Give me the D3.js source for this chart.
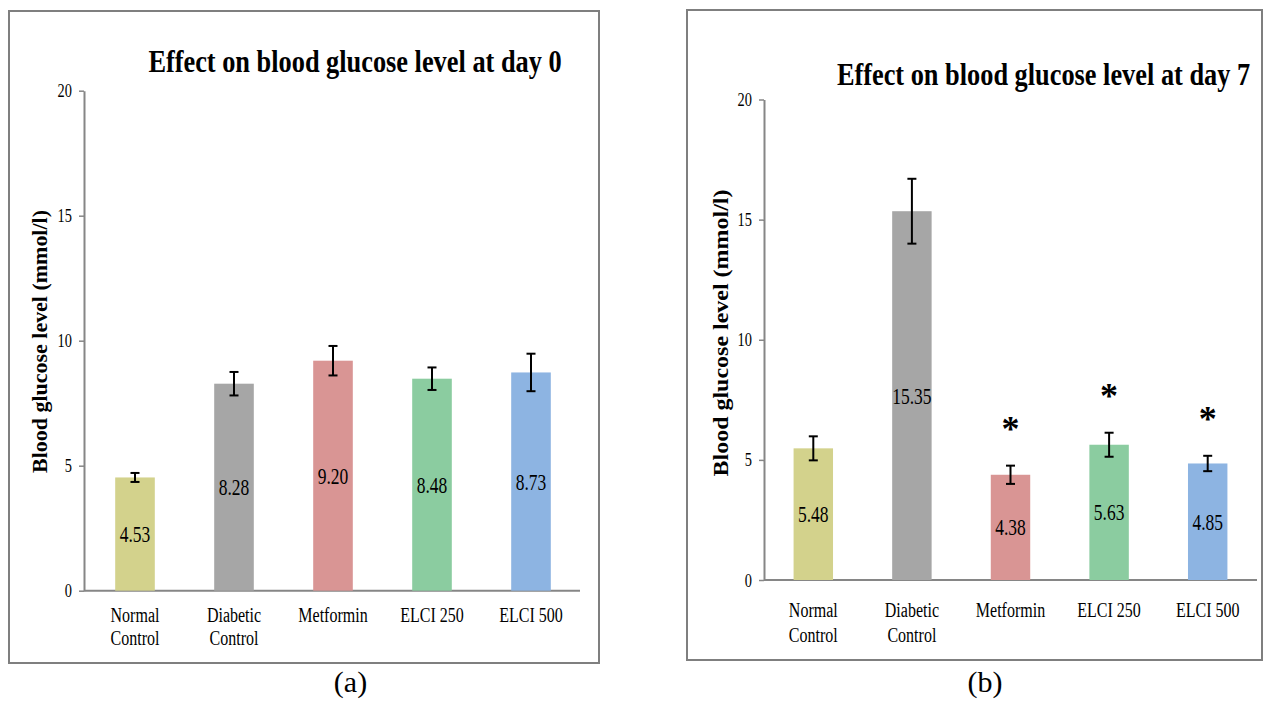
<!DOCTYPE html>
<html>
<head>
<meta charset="utf-8">
<script src="https://cdn.jsdelivr.net/npm/d3@7"></script>
<style>
  body { margin: 0; background: #fff; }
  svg { display: block; }
  text { font-family: "Liberation Serif", "Times New Roman", serif; fill: #000; }
</style>
</head>
<body>
<svg id="chart" width="1264" height="703"></svg>
<script>
// groups, two lines per label where the label wraps
const categories = [["Normal", "Control"], ["Diabetic", "Control"], ["Metformin"], ["ELCI 250"], ["ELCI 500"]];
const barColors = ["#d3d28c", "#a6a6a6", "#d99594", "#8bcca0", "#8db4e2"];
const yTicks = [0, 5, 10, 15, 20];

// day 0 means and error bars (mmol/l)
const day0Values = [4.53, 8.28, 9.20, 8.48, 8.73];
const day0Errors = [0.18, 0.47, 0.59, 0.45, 0.75];
const day0Significant = [false, false, false, false, false];

// day 7 means and error bars (mmol/l)
const day7Values = [5.48, 15.35, 4.38, 5.63, 4.85];
const day7Errors = [0.50, 1.35, 0.38, 0.50, 0.32];
const day7Significant = [false, false, true, true, true];

const svg = d3.select("#chart");

// place a text at (x, y), squeezed horizontally like the original export
function place(sel, x, y, sx) {
  return sel.attr("transform", `translate(${x},${y}) scale(${sx},1)`);
}

function drawPanel(p) {
  const g = svg.append("g");

  // frame around the panel
  g.append("rect")
    .attr("x", p.box[0]).attr("y", p.box[1])
    .attr("width", p.box[2] - p.box[0]).attr("height", p.box[3] - p.box[1])
    .attr("fill", "none").attr("stroke", "#7f7f7f").attr("stroke-width", 2);

  const x = d3.scaleBand()
    .domain(d3.range(categories.length))
    .range(p.xRange)
    .paddingInner(0.6)
    .paddingOuter(0.3);

  const y = d3.scaleLinear().domain([0, 20]).range([p.yRange[0], p.yRange[1]]);

  // y axis
  const yAxis = g.append("g")
    .attr("transform", `translate(${p.axisX},0)`)
    .call(d3.axisLeft(y).tickValues(yTicks).tickSize(5).tickSizeOuter(0));
  yAxis.select(".domain").attr("stroke", "#868686").attr("stroke-width", 2);
  yAxis.selectAll(".tick line").attr("stroke", "#868686").attr("stroke-width", 1.5);
  yAxis.selectAll(".tick text")
    .attr("x", null).attr("dy", null)
    .attr("font-size", 18)
    .attr("fill", "#000")
    .attr("dominant-baseline", "central")
    .attr("transform", "translate(-12,0) scale(0.8,1)")
    .style("font-family", '"Liberation Serif", "Times New Roman", serif');

  // x axis line
  g.append("line")
    .attr("x1", p.axisX).attr("x2", p.xAxisEnd)
    .attr("y1", y(0)).attr("y2", y(0))
    .attr("stroke", "#868686").attr("stroke-width", 2);

  // category labels
  const cat = g.selectAll(".cat").data(categories).join("g").attr("class", "cat");
  cat.each(function (lines, i) {
    const cx = x(i) + x.bandwidth() / 2;
    lines.forEach((line, k) => {
      place(d3.select(this).append("text"), cx, y(0) + p.catOffset + k * p.catLine, 0.8)
        .attr("text-anchor", "middle")
        .attr("font-size", 20)
        .text(line);
    });
  });

  // bars
  g.selectAll(".bar").data(p.values).join("rect")
    .attr("class", "bar")
    .attr("x", (d, i) => x(i))
    .attr("width", x.bandwidth())
    .attr("y", d => y(d))
    .attr("height", d => y(0) - y(d))
    .attr("fill", (d, i) => barColors[i]);

  // error bars
  const err = g.selectAll(".err").data(p.values).join("g").attr("class", "err")
    .attr("transform", (d, i) => `translate(${x(i) + x.bandwidth() / 2},0)`);
  err.append("line")
    .attr("y1", (d, i) => y(d + p.errors[i]))
    .attr("y2", (d, i) => y(d - p.errors[i]))
    .attr("stroke", "#000").attr("stroke-width", 2);
  err.append("line")
    .attr("x1", -4.5).attr("x2", 4.5)
    .attr("y1", (d, i) => y(d + p.errors[i]))
    .attr("y2", (d, i) => y(d + p.errors[i]))
    .attr("stroke", "#000").attr("stroke-width", 2);
  err.append("line")
    .attr("x1", -4.5).attr("x2", 4.5)
    .attr("y1", (d, i) => y(d - p.errors[i]))
    .attr("y2", (d, i) => y(d - p.errors[i]))
    .attr("stroke", "#000").attr("stroke-width", 2);

  // value labels in the middle of the bars
  g.selectAll(".val").data(p.values).join("text")
    .attr("class", "val")
    .each(function (d, i) {
      place(d3.select(this), x(i) + x.bandwidth() / 2, (y(d) + y(0)) / 2 + 8, 0.76);
    })
    .attr("text-anchor", "middle")
    .attr("font-size", 23)
    .attr("fill", "#1a1a1a")
    .text(d => d.toFixed(2));

  // significance stars
  g.selectAll(".star").data(p.values.map((d, i) => i).filter(i => p.significant[i])).join("text")
    .attr("class", "star")
    .attr("x", i => x(i) + x.bandwidth() / 2)
    .attr("y", i => y(p.values[i] + p.errors[i]) - 25)
    .attr("text-anchor", "middle")
    .attr("font-size", 36)
    .attr("font-weight", "bold")
    .text("*");

  // title
  place(g.append("text"), p.titleX, p.titleY, 0.85)
    .attr("text-anchor", "middle")
    .attr("font-size", 31)
    .attr("font-weight", "bold")
    .text(p.title);

  // y axis title
  g.append("text")
    .attr("transform", `translate(${p.yLabelX},${p.yLabelY}) rotate(-90)`)
    .attr("text-anchor", "middle")
    .attr("font-size", 21)
    .attr("font-weight", "bold")
    .attr("textLength", p.yLabelLength)
    .attr("lengthAdjust", "spacingAndGlyphs")
    .text("Blood glucose level (mmol/l)");

  // panel letter
  g.append("text")
    .attr("x", p.letterX).attr("y", 692)
    .attr("text-anchor", "middle")
    .attr("font-size", 30)
    .text(p.letter);
}

drawPanel({
  values: day0Values, errors: day0Errors, significant: day0Significant,
  title: "Effect on blood glucose level at day 0", letter: "(a)",
  box: [9, 11, 599, 663],
  axisX: 84, xRange: [85.5, 580.5], xAxisEnd: 580, yRange: [590.7, 90.7],
  catOffset: 31, catLine: 23.5,
  titleX: 355, titleY: 71.5,
  yLabelX: 47.3, yLabelY: 341.5, yLabelLength: 263,
  letterX: 350.5
});

drawPanel({
  values: day7Values, errors: day7Errors, significant: day7Significant,
  title: "Effect on blood glucose level at day 7", letter: "(b)",
  box: [687, 10, 1262, 660],
  axisX: 764, xRange: [764, 1257], xAxisEnd: 1257, yRange: [580, 99.5],
  catOffset: 36.5, catLine: 25.5,
  titleX: 1043.5, titleY: 85,
  yLabelX: 728.3, yLabelY: 333, yLabelLength: 287,
  letterX: 985
});
</script>
</body>
</html>
